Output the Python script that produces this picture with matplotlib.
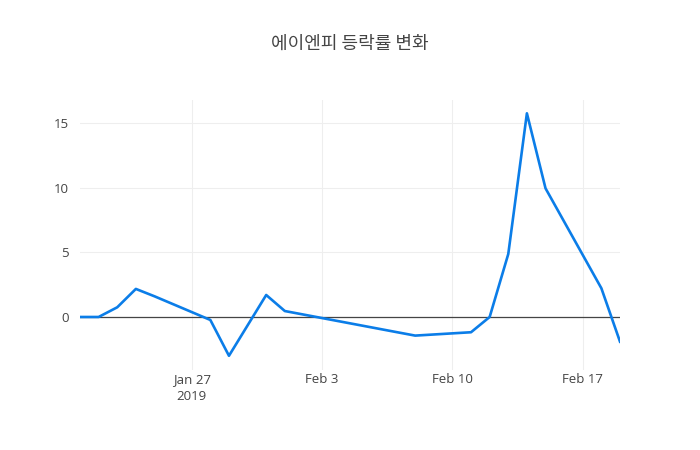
import matplotlib
matplotlib.use("Agg")
import matplotlib.pyplot as plt
import numpy as np
import pandas as pd

plt.rcParams['font.family'] = ['Open Sans', 'Noto Sans CJK KR', 'DejaVu Sans']

# daily change rate (%) by trading day
dates = pd.to_datetime([
    "2019-01-21", "2019-01-22", "2019-01-23", "2019-01-24", "2019-01-25",
    "2019-01-28", "2019-01-29", "2019-01-30", "2019-01-31", "2019-02-01",
    "2019-02-07", "2019-02-08", "2019-02-11", "2019-02-12", "2019-02-13",
    "2019-02-14", "2019-02-15", "2019-02-18", "2019-02-19",
])
rates = [0.0, 0.0, 0.75, 2.17, 1.6,
         -0.23, -3.0, -0.65, 1.7, 0.46,
         -1.17, -1.44, -1.18, 0.0, 4.87,
         15.75, 9.95, 2.22, -1.91]

title = "에이엔피 등락률 변화"
tick_dates = pd.to_datetime(["2019-01-27", "2019-02-03", "2019-02-10", "2019-02-17"])
tick_labels = ["Jan 27\n2019", "Feb 3", "Feb 10", "Feb 17"]
ytick_vals = [0, 5, 10, 15]

fig = plt.figure(figsize=(7, 4.5), dpi=100)
ax = fig.add_axes([80/700, 80/450, 540/700, 270/450])

ax.plot(dates, rates, color='#0b7de8', linewidth=1.9, zorder=3)
ax.axhline(0, color='#444444', linewidth=0.9, zorder=2)

ax.set_xlim(dates[0], dates[-1])
ax.set_ylim(-4.1, 16.78)
ax.set_xticks(tick_dates)
ax.set_xticklabels(tick_labels, linespacing=1.4)
ax.set_yticks(ytick_vals)

for s in ax.spines.values():
    s.set_visible(False)
ax.grid(True, color='#eeeeee', linewidth=0.8, zorder=0)
ax.tick_params(length=0, labelsize=9.5, colors='#444444', pad=8)
ax.tick_params(axis='x', pad=2)

fig.text(0.5, 1 - 44/450, title, ha='center', va='center', fontsize=13,
         color='#444444', family=['Noto Sans CJK KR', 'DejaVu Sans'])

fig.savefig("out.png", dpi=100)
